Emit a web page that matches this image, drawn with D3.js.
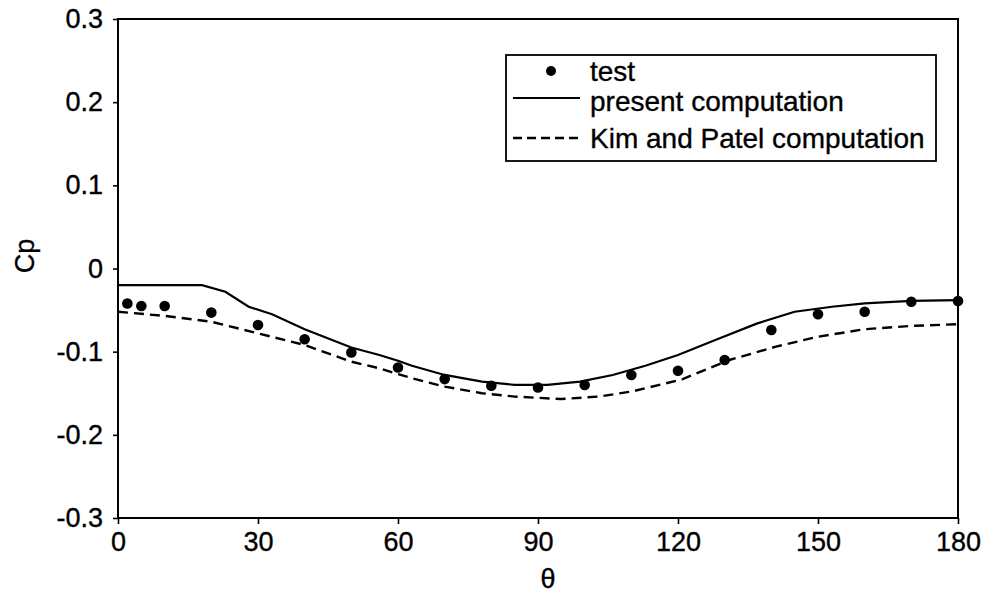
<!DOCTYPE html>
<html>
<head>
<meta charset="utf-8">
<script src="https://cdn.jsdelivr.net/npm/d3@7"></script>
<style>
  html, body { margin: 0; padding: 0; background: #fff; }
  svg { display: block; }
  text { font-family: "Liberation Sans", Arial, Helvetica, sans-serif; fill: #000; stroke: #000; stroke-width: 0.35px; }
</style>
</head>
<body>
<svg id="chart" width="988" height="596"></svg>
<script>
// ---- data ----
const xTicks = [0, 30, 60, 90, 120, 150, 180];
const yTicks = [0.3, 0.2, 0.1, 0, -0.1, -0.2, -0.3];
const yTickLabels = ["0.3", "0.2", "0.1", "0", "-0.1", "-0.2", "-0.3"];

const testTheta = [2, 5, 10, 20, 30, 40, 50, 60, 70, 80, 90, 100, 110, 120, 130, 140, 150, 160, 170, 180];
const testCp = [-0.042, -0.045, -0.045, -0.053, -0.068, -0.085, -0.101, -0.119, -0.133, -0.141, -0.143, -0.140, -0.128, -0.123, -0.110, -0.074, -0.055, -0.052, -0.040, -0.039];

const presentTheta = [0, 10, 18, 23, 28, 33, 40, 50, 56, 60, 63, 70, 78, 85, 92, 99, 106, 113, 120, 128, 137, 145, 153, 160, 170, 180];
const presentCp = [-0.020, -0.020, -0.020, -0.028, -0.046, -0.055, -0.073, -0.095, -0.104, -0.111, -0.117, -0.128, -0.136, -0.140, -0.140, -0.136, -0.128, -0.117, -0.104, -0.086, -0.066, -0.052, -0.046, -0.042, -0.039, -0.038];

const kimTheta = [0, 10, 20, 30, 40, 50, 56, 63, 70, 78, 85, 95, 103, 110, 116, 121, 131, 141, 150, 160, 170, 180];
const kimCp = [-0.052, -0.057, -0.064, -0.078, -0.092, -0.112, -0.120, -0.132, -0.142, -0.150, -0.154, -0.157, -0.154, -0.148, -0.140, -0.133, -0.110, -0.094, -0.082, -0.073, -0.069, -0.067];

const legendLabels = ["test", "present computation", "Kim and Patel computation"];
const xTitle = "θ";
const yTitle = "Cp";

// ---- layout ----
const svg = d3.select("#chart");
const L = 118, R = 958, T = 19, B = 518;
const x = d3.scaleLinear().domain([0, 180]).range([L, R]);
const y = d3.scaleLinear().domain([-0.3, 0.3]).range([B, T]);
const FS = 27;

// axes
const xAxis = d3.axisBottom(x).tickValues(xTicks).tickSize(6).tickPadding(8).tickFormat(d3.format("d"));
const yAxis = d3.axisLeft(y).tickValues(yTicks).tickSize(5).tickPadding(10)
  .tickFormat((d, i) => yTickLabels[i]);

const gx = svg.append("g").attr("transform", `translate(0,${B})`).call(xAxis);
const gy = svg.append("g").attr("transform", `translate(${L},0)`).call(yAxis);
[gx, gy].forEach(g => {
  g.select(".domain").remove();
  g.selectAll(".tick line").attr("stroke", "#000").attr("stroke-width", 1.6);
  g.selectAll(".tick text").attr("font-size", FS).attr("fill", "#000")
    .style("font-family", '"Liberation Sans", Arial, sans-serif');
});
gx.selectAll(".tick text").attr("dy", "0.71em");

// frame
svg.append("rect").attr("x", L).attr("y", T).attr("width", R - L).attr("height", B - T)
  .attr("fill", "none").attr("stroke", "#000").attr("stroke-width", 2);

// titles
svg.append("text").attr("x", 548).attr("y", 588).attr("text-anchor", "middle")
  .attr("font-size", FS).text(xTitle);
svg.append("text").attr("transform", `translate(34,256) rotate(-90)`).attr("text-anchor", "middle")
  .attr("font-size", FS).text(yTitle);

// lines
const line = d3.line().x(d => x(d[0])).y(d => y(d[1]));
const presentData = presentTheta.map((t, i) => [t, presentCp[i]]);
const kimData = kimTheta.map((t, i) => [t, kimCp[i]]);
svg.append("path").datum(presentData).attr("d", line)
  .attr("fill", "none").attr("stroke", "#000").attr("stroke-width", 2.2);
svg.append("path").datum(kimData).attr("d", line)
  .attr("fill", "none").attr("stroke", "#000").attr("stroke-width", 2.4)
  .attr("stroke-dasharray", "10,6");

// points
svg.append("g").selectAll("circle").data(testTheta.map((t, i) => [t, testCp[i]]))
  .join("circle").attr("cx", d => x(d[0])).attr("cy", d => y(d[1])).attr("r", 5.3).attr("fill", "#000");

// legend
const lg = svg.append("g");
lg.append("rect").attr("x", 506).attr("y", 55).attr("width", 430).attr("height", 106)
  .attr("fill", "#fff").attr("stroke", "#000").attr("stroke-width", 1.8);
const rowY = [71, 101, 138];
lg.append("circle").attr("cx", 551).attr("cy", rowY[0]).attr("r", 5).attr("fill", "#000");
lg.append("line").attr("x1", 513).attr("x2", 580).attr("y1", rowY[1] - 3).attr("y2", rowY[1] - 3)
  .attr("stroke", "#000").attr("stroke-width", 2.2);
lg.append("line").attr("x1", 513).attr("x2", 578).attr("y1", rowY[2]).attr("y2", rowY[2])
  .attr("stroke", "#000").attr("stroke-width", 2.4).attr("stroke-dasharray", "9,5");
legendLabels.forEach((s, i) => {
  lg.append("text").attr("x", 590).attr("y", rowY[i]).attr("dy", "0.35em")
    .attr("font-size", 28).text(s);
});
</script>
</body>
</html>
